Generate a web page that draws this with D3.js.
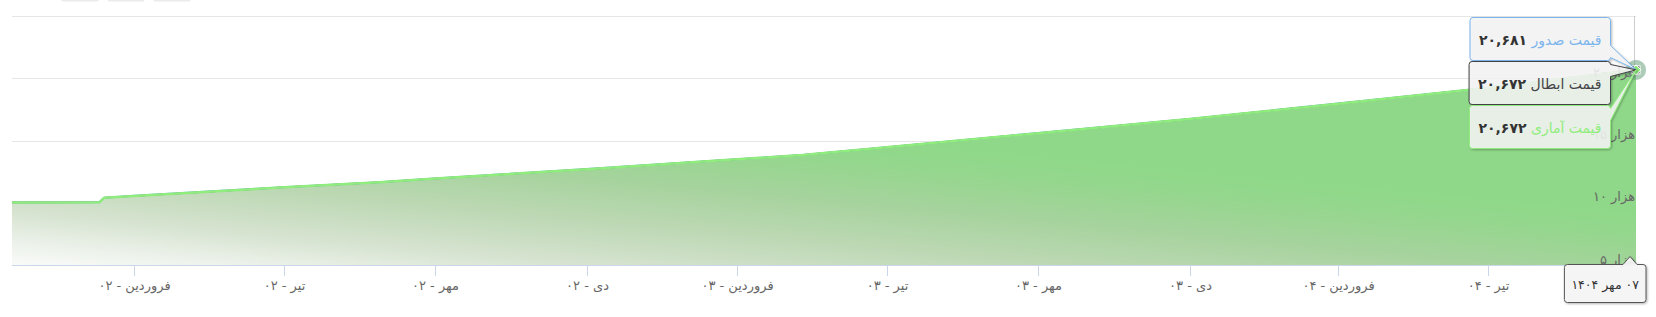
<!DOCTYPE html>
<html lang="fa">
<head>
<meta charset="utf-8">
<script src="https://cdn.jsdelivr.net/npm/d3@7"></script>
<style>
  html, body { margin: 0; padding: 0; background: #fff; }
  svg { display: block; font-family: Tahoma, "DejaVu Sans", sans-serif; }
</style>
</head>
<body>
<div id="chart"></div>
<script>
// price history
var dates = ["2023-01-17", "2023-03-11", "2023-03-14", "2023-04-01", "2023-07-01",
  "2023-08-28", "2023-10-01", "2024-01-01", "2024-04-01", "2024-05-11", "2024-07-01",
  "2024-10-01", "2025-01-01", "2025-04-01", "2025-06-23", "2025-07-01", "2025-09-29"];
var issueValues = [10040, 10045, 10410, 10558, 11248, 11650, 11948, 12708, 13497, 13843,
  14458, 15598, 16728, 17968, 19120, 19238, 20681];
var redeemValues = [10030, 10035, 10400, 10550, 11240, 11642, 11940, 12700, 13490, 13835,
  14450, 15590, 16720, 17960, 19112, 19230, 20672];
var statValues = [10030, 10035, 10400, 10550, 11240, 11642, 11940, 12700, 13490, 13835,
  14450, 15590, 16720, 17960, 19112, 19230, 20672];

var seriesNames = ["قیمت صدور", "قیمت ابطال", "قیمت آماری"];
var seriesColors = ["#7cb5ec", "#434348", "#90ed7d"];
var lineWidths = [2, 1.5, 2.5];

var xTickDates = ["2023-04-01", "2023-07-01", "2023-10-01", "2024-01-01", "2024-04-01",
  "2024-07-01", "2024-10-01", "2025-01-01", "2025-04-01", "2025-07-01"];
var xTickLabels = ["فروردین - ۰۲", "تیر - ۰۲", "مهر - ۰۲", "دی - ۰۲", "فروردین - ۰۳",
  "تیر - ۰۳", "مهر - ۰۳", "دی - ۰۳", "فروردین - ۰۴", "تیر - ۰۴"];
var yTicks = [5000, 10000, 15000, 20000, 25000];
var yTickLabels = ["۵ هزار", "۱۰ هزار", "۱۵ هزار", "۲۰ هزار", ""];
var hoverDateLabel = "۰۷ مهر ۱۴۰۴";

var width = 1656, height = 317;
var plotL = 12, plotR = 1636, plotT = 16, plotB = 265;

var parse = d3.timeParse("%Y-%m-%d");
var toFa = s => String(s).replace(/\d/g, d => "۰۱۲۳۴۵۶۷۸۹"[d]);
var fmt = v => toFa(d3.format(",")(v));

var series = [issueValues, redeemValues, statValues].map((vals, i) => ({
  name: seriesNames[i],
  color: seriesColors[i],
  width: lineWidths[i],
  points: vals.map((v, j) => ({ date: parse(dates[j]), value: v }))
}));

var x = d3.scaleTime()
  .domain([parse(dates[0]), parse(dates[dates.length - 1])])
  .range([plotL, plotR]);
var y = d3.scaleLinear()
  .domain([yTicks[0], yTicks[yTicks.length - 1]])
  .range([plotB, plotT]);

var svg = d3.select("#chart").append("svg")
  .attr("width", width)
  .attr("height", height);

var defs = svg.append("defs");
// fill fades from white at bottom-left to green at top-right
var grad = defs.append("linearGradient")
  .attr("id", "areaFill")
  .attr("gradientUnits", "userSpaceOnUse")
  .attr("x1", 11).attr("y1", 276)
  .attr("x2", 31).attr("y2", 61);
[[0, "#ffffff"], [0.15, "#edf2eb"], [0.3, "#d6e3d0"], [0.5, "#bdd8b4"],
 [0.7, "#a6d39d"], [0.9, "#93d78c"], [1, "#8fd889"]]
  .forEach(s => grad.append("stop").attr("offset", s[0]).attr("stop-color", s[1]));

var shadow = defs.append("filter").attr("id", "shadow")
  .attr("x", "-20%").attr("y", "-20%").attr("width", "140%").attr("height", "150%");
shadow.append("feDropShadow")
  .attr("dx", 1).attr("dy", 1).attr("stdDeviation", 1.2)
  .attr("flood-color", "#000").attr("flood-opacity", 0.3);

// range buttons peeking from the top
svg.append("g").selectAll("rect")
  .data([61, 107, 153])
  .join("rect")
  .attr("x", d => d).attr("y", -22)
  .attr("width", 38).attr("height", 23.5)
  .attr("rx", 3)
  .attr("fill", "#ebebeb");

// grid
svg.append("g")
  .selectAll("line")
  .data(yTicks.slice(1))
  .join("line")
  .attr("x1", plotL).attr("x2", plotR)
  .attr("y1", d => Math.round(y(d)) + 0.5)
  .attr("y2", d => Math.round(y(d)) + 0.5)
  .attr("stroke", "#e6e6e6");

var last = series[2].points[series[2].points.length - 1];
var px = x(last.date);

// crosshair
svg.append("line")
  .attr("x1", px - 1.5).attr("x2", px - 1.5)
  .attr("y1", plotT).attr("y2", plotB)
  .attr("stroke", "#cccccc");

// area
var area = d3.area()
  .x(d => x(d.date))
  .y0(plotB)
  .y1(d => y(d.value));
svg.append("path")
  .datum(series[2].points)
  .attr("d", area)
  .attr("fill", "url(#areaFill)");

var line = d3.line()
  .x(d => x(d.date))
  .y(d => y(d.value));
svg.append("g")
  .selectAll("path")
  .data(series)
  .join("path")
  .attr("d", d => line(d.points))
  .attr("fill", "none")
  .attr("stroke", d => d.color)
  .attr("stroke-width", d => d.width)
  .attr("stroke-linejoin", "round");

// y labels (drawn inside the plot, right side)
svg.append("g")
  .selectAll("text")
  .data(yTicks)
  .join("text")
  .attr("x", plotR - 1)
  .attr("y", d => y(d) - 1.5)
  .attr("text-anchor", "end")
  .attr("font-size", 13)
  .attr("fill", "#666666")
  .text((d, i) => yTickLabels[i]);

// x axis
var xAxis = svg.append("g").attr("transform", `translate(0,${plotB})`);
xAxis.append("line")
  .attr("x1", plotL).attr("x2", plotR)
  .attr("y1", 0.5).attr("y2", 0.5)
  .attr("stroke", "#ccd6eb");
var xt = xAxis.selectAll("g.tick")
  .data(xTickDates)
  .join("g")
  .attr("class", "tick")
  .attr("transform", d => `translate(${Math.round(x(parse(d))) + 0.5},0)`);
xt.append("line").attr("y1", 0).attr("y2", 11).attr("stroke", "#ccd6eb");
xt.append("text")
  .attr("y", 25)
  .attr("direction", "rtl")
  .attr("text-anchor", "middle")
  .attr("font-size", 13)
  .attr("fill", "#666666")
  .text((d, i) => xTickLabels[i]);

// hover halos and markers
var lastPts = series.map(s => ({ s: s, p: s.points[s.points.length - 1] }));
svg.append("g")
  .selectAll("circle")
  .data(lastPts)
  .join("circle")
  .attr("cx", d => x(d.p.date))
  .attr("cy", d => y(d.p.value))
  .attr("r", 10)
  .attr("fill", d => d.s.color)
  .attr("fill-opacity", 0.25);
svg.append("circle")
  .attr("cx", x(lastPts[0].p.date)).attr("cy", y(lastPts[0].p.value))
  .attr("r", 4).attr("fill", seriesColors[0]).attr("stroke", "#fff");
svg.append("rect")
  .attr("x", x(lastPts[1].p.date) - 4).attr("y", y(lastPts[1].p.value) - 4)
  .attr("width", 8).attr("height", 8)
  .attr("fill", seriesColors[1]).attr("stroke", "#fff");
svg.append("path")
  .attr("d", d3.symbol(d3.symbolDiamond2, 60)())
  .attr("transform", `translate(${x(lastPts[2].p.date)},${y(lastPts[2].p.value)})`)
  .attr("fill", seriesColors[2]).attr("stroke", "#fff");

// tooltip callout shape
function callout(l, t, w, h, ax, ay, r) {
  var R = l + w, B = t + h;
  var cy = Math.max(t + r + 6, Math.min(B - r - 6, ay));
  return `M${l + r},${t} L${R - r},${t} Q${R},${t} ${R},${t + r} L${R},${cy - 6} L${ax},${ay} ` +
    `L${R},${cy + 6} L${R},${B - r} Q${R},${B} ${R - r},${B} L${l + r},${B} ` +
    `Q${l},${B} ${l},${B - r} L${l},${t + r} Q${l},${t} ${l + r},${t} Z`;
}

var tipRight = 1610.5, tipTop = 17.5, tipH = 43, tipGap = 44;
lastPts.forEach((d, i) => {
  var g = svg.append("g");
  var shape = g.append("path");
  var ty = tipTop + i * tipGap;
  var txt = g.append("text")
    .attr("x", tipRight - 9)
    .attr("y", ty + 27)
    .attr("direction", "rtl")
    .attr("text-anchor", "start")
    .attr("font-size", 14);
  txt.append("tspan").attr("fill", d.s.color).text(d.s.name + " ");
  txt.append("tspan").attr("fill", "#333333").attr("font-weight", "bold").text(fmt(d.p.value));
  var w = txt.node().getComputedTextLength() + 18;
  shape.attr("d", callout(tipRight - w, ty, w, tipH, x(d.p.date), y(d.p.value), 3))
    .attr("fill", "rgba(247,247,247,0.85)")
    .attr("stroke", d.s.color)
    .attr("stroke-width", 1)
    .attr("filter", "url(#shadow)");
  txt.raise();
});

// date label under the axis
var dg = svg.append("g");
var dShape = dg.append("path");
var dTxt = dg.append("text")
  .attr("direction", "rtl")
  .attr("text-anchor", "middle")
  .attr("font-size", 12.5)
  .attr("fill", "#333333")
  .text(hoverDateLabel);
var dw = dTxt.node().getComputedTextLength() + 14;
var dR = 1646, dL = dR - dw, dT = 264.5, dB = 302.5;
var apex = Math.min(px, dR - 16);
dShape.attr("d", `M${dL + 3},${dT} L${apex - 7},${dT} L${apex},${dT - 8} L${apex + 7},${dT} ` +
    `L${dR - 3},${dT} Q${dR},${dT} ${dR},${dT + 3} L${dR},${dB - 3} Q${dR},${dB} ${dR - 3},${dB} ` +
    `L${dL + 3},${dB} Q${dL},${dB} ${dL},${dB - 3} L${dL},${dT + 3} Q${dL},${dT} ${dL + 3},${dT} Z`)
  .attr("fill", "rgba(247,247,247,0.92)")
  .attr("stroke", "#555555")
  .attr("filter", "url(#shadow)");
dTxt.attr("x", (dL + dR) / 2).attr("y", (dT + dB) / 2 + 5);
</script>
</body>
</html>
